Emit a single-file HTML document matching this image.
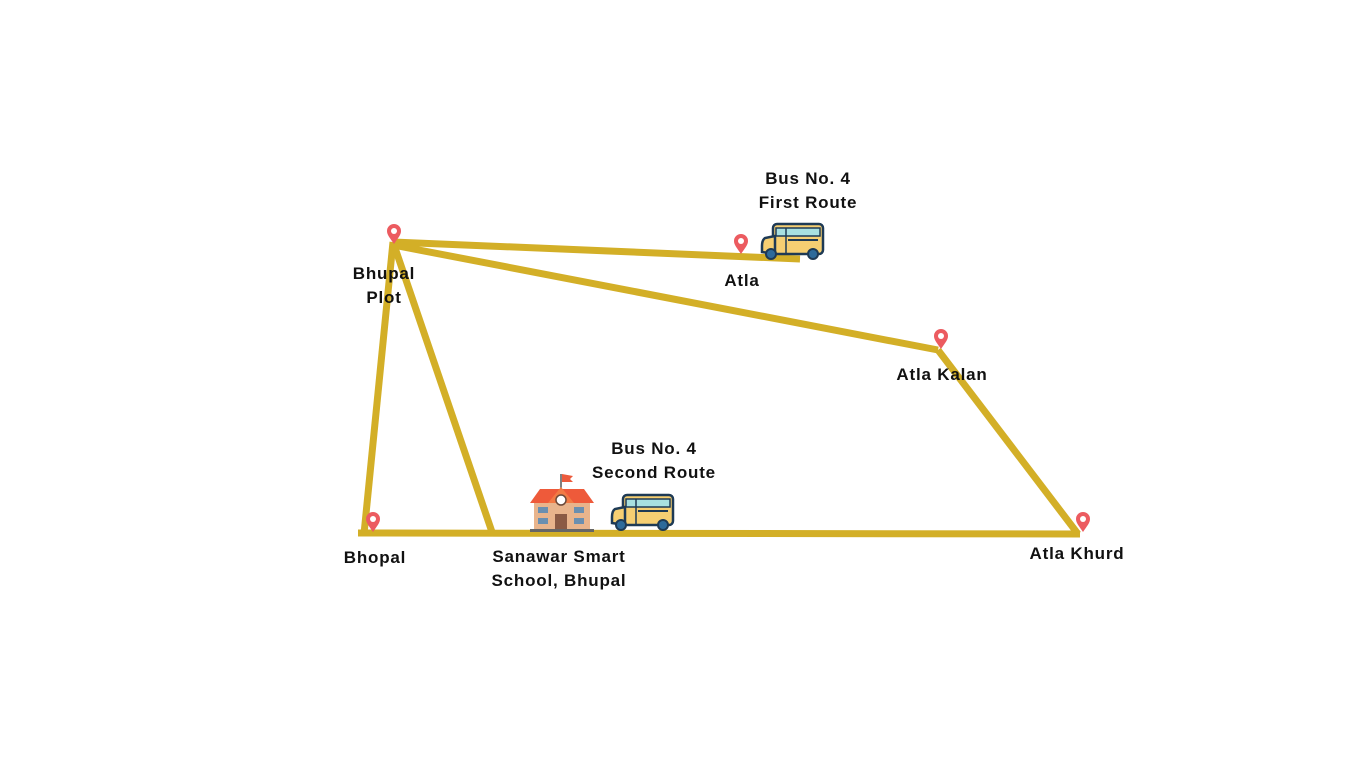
<!DOCTYPE html>
<html><head><meta charset="utf-8"><style>
html,body{margin:0;padding:0;background:#fff;}
svg{display:block}
text{font-family:"Liberation Sans",sans-serif;font-weight:bold;font-size:17px;letter-spacing:0.8px;fill:#111;text-anchor:middle}
</style></head><body>
<svg width="1366" height="768" viewBox="0 0 1366 768" xmlns="http://www.w3.org/2000/svg">
<defs>
<g id="pin"><path d="M0,0 C-4,-6 -7,-9 -7,-13 A7,7 0 1 1 7,-13 C7,-9 4,-6 0,0 Z" fill="#ec5b60"/><circle cx="0" cy="-13" r="3" fill="#fff"/></g>
<g id="bus">
<rect x="12" y="2" width="50" height="30" rx="4" fill="#f6cf72" stroke="#1e3a55" stroke-width="2.5"/>
<path d="M14,14 L4,16 Q1,18 1,24 L1,30 L14,32 Z" fill="#f6cf72" stroke="#1e3a55" stroke-width="2.5"/>
<rect x="15" y="6" width="44" height="8" fill="#a8e0e0" stroke="#1e3a55" stroke-width="1.5"/>
<line x1="25" y1="6" x2="25" y2="32" stroke="#1e3a55" stroke-width="1.5"/>
<rect x="27" y="17" width="30" height="2" fill="#1e3a55"/>
<circle cx="10" cy="32" r="5" fill="#2d6a9a" stroke="#1e3a55" stroke-width="2"/>
<circle cx="52" cy="32" r="5" fill="#2d6a9a" stroke="#1e3a55" stroke-width="2"/>
</g>
</defs>
<g stroke="#d3af27" stroke-width="7" stroke-linecap="butt" fill="none">
<line x1="393" y1="242" x2="800" y2="259"/>
<line x1="393" y1="245" x2="938" y2="350"/>
<line x1="938" y1="350" x2="1078" y2="534"/>
<line x1="393" y1="242" x2="364" y2="534"/>
<line x1="393" y1="242" x2="492" y2="532"/>
<line x1="358" y1="533" x2="1080" y2="534"/>
</g>
<use href="#pin" x="394" y="244"/>
<use href="#pin" x="741" y="254"/>
<use href="#pin" x="941" y="349"/>
<use href="#pin" x="1083" y="532"/>
<use href="#pin" x="373" y="532"/>
<use href="#bus" x="761" y="222"/>
<use href="#bus" x="611" y="493"/>
<g>
<line x1="561" y1="474" x2="561" y2="492" stroke="#555" stroke-width="1.5"/>
<path d="M562,474 L573,476 L570,479 L573,482 L562,482 Z" fill="#ec5b3c"/>
<rect x="534" y="501" width="56" height="29" fill="#e8b48c"/>
<path d="M530,503 L540,489 L584,489 L594,503 Z" fill="#ee5a3a"/>
<path d="M548,503 L561,487 L574,503 Z" fill="#f27a44"/>
<circle cx="561" cy="500" r="5" fill="#fff" stroke="#6b4a3a" stroke-width="1.5"/>
<rect x="555" y="514" width="12" height="16" fill="#8a5a44"/>
<g fill="#6a8fb0"><rect x="538" y="507" width="10" height="6"/><rect x="538" y="518" width="10" height="6"/><rect x="574" y="507" width="10" height="6"/><rect x="574" y="518" width="10" height="6"/></g>
<rect x="530" y="529" width="64" height="3" fill="#666"/>
</g>
<text x="384" y="279">Bhupal</text><text x="384" y="303">Plot</text>
<text x="742" y="286">Atla</text>
<text x="942" y="380">Atla Kalan</text>
<text x="1077" y="559">Atla Khurd</text>
<text x="375" y="563">Bhopal</text>
<text x="559" y="562">Sanawar Smart</text><text x="559" y="586">School, Bhupal</text>
<text x="808" y="184">Bus No. 4</text><text x="808" y="208">First Route</text>
<text x="654" y="454">Bus No. 4</text><text x="654" y="478">Second Route</text>
</svg>
</body></html>
